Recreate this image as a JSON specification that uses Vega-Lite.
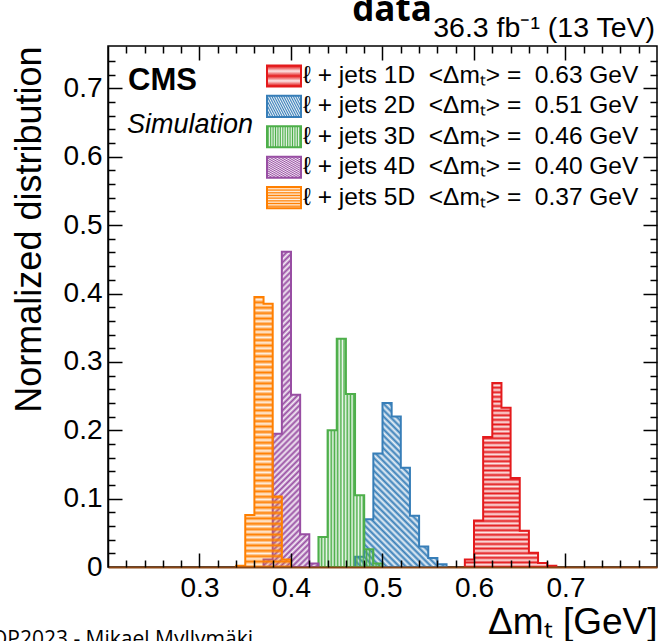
{
"$schema":"https://vega.github.io/schema/vega-lite/v6.json",
"width":549,"height":521,
"autosize":{"type":"none"},
"padding":{"left":108,"top":46,"right":3,"bottom":74},
"background":"white",
"config":{"view":{"stroke":"black","strokeWidth":1.5},"font":"Liberation Sans"},
"datasets":{
"h1":[{"s":"1D","x":0.59,"y":0.011},{"s":"1D","x":0.6,"y":0.068},{"s":"1D","x":0.61,"y":0.19},{"s":"1D","x":0.62,"y":0.269},{"s":"1D","x":0.63,"y":0.233},{"s":"1D","x":0.64,"y":0.13},{"s":"1D","x":0.65,"y":0.053},{"s":"1D","x":0.66,"y":0.021},{"s":"1D","x":0.67,"y":0.006},{"s":"1D","x":0.68,"y":0.002},{"s":"1D","x":0.69,"y":0}],
"h2":[{"s":"2D","x":0.47,"y":0.015},{"s":"2D","x":0.48,"y":0.07},{"s":"2D","x":0.49,"y":0.166},{"s":"2D","x":0.5,"y":0.24},{"s":"2D","x":0.51,"y":0.22},{"s":"2D","x":0.52,"y":0.145},{"s":"2D","x":0.53,"y":0.075},{"s":"2D","x":0.54,"y":0.03},{"s":"2D","x":0.55,"y":0.013},{"s":"2D","x":0.56,"y":0.004},{"s":"2D","x":0.57,"y":0}],
"h3":[{"s":"3D","x":0.43,"y":0.044},{"s":"3D","x":0.44,"y":0.2},{"s":"3D","x":0.45,"y":0.334},{"s":"3D","x":0.46,"y":0.253},{"s":"3D","x":0.47,"y":0.105},{"s":"3D","x":0.48,"y":0.026},{"s":"3D","x":0.49,"y":0.005},{"s":"3D","x":0.5,"y":0}],
"h4":[{"s":"4D","x":0.37,"y":0.011},{"s":"4D","x":0.38,"y":0.195},{"s":"4D","x":0.39,"y":0.461},{"s":"4D","x":0.4,"y":0.252},{"s":"4D","x":0.41,"y":0.048},{"s":"4D","x":0.42,"y":0.005},{"s":"4D","x":0.43,"y":0}],
"h5":[{"s":"5D","x":0.34,"y":0.002},{"s":"5D","x":0.35,"y":0.076},{"s":"5D","x":0.36,"y":0.395},{"s":"5D","x":0.37,"y":0.385},{"s":"5D","x":0.38,"y":0.103},{"s":"5D","x":0.39,"y":0.011},{"s":"5D","x":0.4,"y":0}]
},
"resolve":{"scale":{"stroke":"independent"},"axis":{"x":"independent","y":"independent"}},
"layer":[
{"data":{"name":"h1"},
"mark":{"type":"area","interpolate":"step-after","strokeWidth":2,"fill":{"gradient":"linear","x1":1,"y1":0,"x2":1,"y2":1,"stops":[{"offset":0,"color":"#e41a1c"},{"offset":0.0125,"color":"#e41a1c1a"},{"offset":0.025,"color":"#e41a1c"},{"offset":0.0375,"color":"#e41a1c1a"},{"offset":0.05,"color":"#e41a1c"},{"offset":0.0625,"color":"#e41a1c1a"},{"offset":0.075,"color":"#e41a1c"},{"offset":0.0875,"color":"#e41a1c1a"},{"offset":0.1,"color":"#e41a1c"},{"offset":0.1125,"color":"#e41a1c1a"},{"offset":0.125,"color":"#e41a1c"},{"offset":0.1375,"color":"#e41a1c1a"},{"offset":0.15,"color":"#e41a1c"},{"offset":0.1625,"color":"#e41a1c1a"},{"offset":0.175,"color":"#e41a1c"},{"offset":0.1875,"color":"#e41a1c1a"},{"offset":0.2,"color":"#e41a1c"},{"offset":0.2125,"color":"#e41a1c1a"},{"offset":0.225,"color":"#e41a1c"},{"offset":0.2375,"color":"#e41a1c1a"},{"offset":0.25,"color":"#e41a1c"},{"offset":0.2625,"color":"#e41a1c1a"},{"offset":0.275,"color":"#e41a1c"},{"offset":0.2875,"color":"#e41a1c1a"},{"offset":0.3,"color":"#e41a1c"},{"offset":0.3125,"color":"#e41a1c1a"},{"offset":0.325,"color":"#e41a1c"},{"offset":0.3375,"color":"#e41a1c1a"},{"offset":0.35,"color":"#e41a1c"},{"offset":0.3625,"color":"#e41a1c1a"},{"offset":0.375,"color":"#e41a1c"},{"offset":0.3875,"color":"#e41a1c1a"},{"offset":0.4,"color":"#e41a1c"},{"offset":0.4125,"color":"#e41a1c1a"},{"offset":0.425,"color":"#e41a1c"},{"offset":0.4375,"color":"#e41a1c1a"},{"offset":0.45,"color":"#e41a1c"},{"offset":0.4625,"color":"#e41a1c1a"},{"offset":0.475,"color":"#e41a1c"},{"offset":0.4875,"color":"#e41a1c1a"},{"offset":0.5,"color":"#e41a1c"},{"offset":0.5125,"color":"#e41a1c1a"},{"offset":0.525,"color":"#e41a1c"},{"offset":0.5375,"color":"#e41a1c1a"},{"offset":0.55,"color":"#e41a1c"},{"offset":0.5625,"color":"#e41a1c1a"},{"offset":0.575,"color":"#e41a1c"},{"offset":0.5875,"color":"#e41a1c1a"},{"offset":0.6,"color":"#e41a1c"},{"offset":0.6125,"color":"#e41a1c1a"},{"offset":0.625,"color":"#e41a1c"},{"offset":0.6375,"color":"#e41a1c1a"},{"offset":0.65,"color":"#e41a1c"},{"offset":0.6625,"color":"#e41a1c1a"},{"offset":0.675,"color":"#e41a1c"},{"offset":0.6875,"color":"#e41a1c1a"},{"offset":0.7,"color":"#e41a1c"},{"offset":0.7125,"color":"#e41a1c1a"},{"offset":0.725,"color":"#e41a1c"},{"offset":0.7375,"color":"#e41a1c1a"},{"offset":0.75,"color":"#e41a1c"},{"offset":0.7625,"color":"#e41a1c1a"},{"offset":0.775,"color":"#e41a1c"},{"offset":0.7875,"color":"#e41a1c1a"},{"offset":0.8,"color":"#e41a1c"},{"offset":0.8125,"color":"#e41a1c1a"},{"offset":0.825,"color":"#e41a1c"},{"offset":0.8375,"color":"#e41a1c1a"},{"offset":0.85,"color":"#e41a1c"},{"offset":0.8625,"color":"#e41a1c1a"},{"offset":0.875,"color":"#e41a1c"},{"offset":0.8875,"color":"#e41a1c1a"},{"offset":0.9,"color":"#e41a1c"},{"offset":0.9125,"color":"#e41a1c1a"},{"offset":0.925,"color":"#e41a1c"},{"offset":0.9375,"color":"#e41a1c1a"},{"offset":0.95,"color":"#e41a1c"},{"offset":0.9625,"color":"#e41a1c1a"},{"offset":0.975,"color":"#e41a1c"},{"offset":0.9875,"color":"#e41a1c1a"},{"offset":1,"color":"#e41a1c"}]}},
"encoding":{
"x":{"field":"x","type":"quantitative","scale":{"domain":[0.2,0.8],"nice":false,"zero":false},
"axis":{"orient":"bottom","values":[0.3,0.4,0.5,0.6,0.7],"format":".1f","grid":false,"zindex":2,"ticks":false,
"labelFont":"Liberation Sans","labelFontSize":28,"labelColor":"black","labelPadding":7,"labelFlush":false,"labelOverlap":false,
"domainColor":"#8a4614","domainWidth":2,
"title":"Δmₜ [GeV]","titleFont":"Liberation Sans","titleFontSize":37,"titleFontWeight":"normal","titleColor":"black","titleAnchor":"end","titleAlign":"right","titleBaseline":"alphabetic","titleX":549,"titleY":66}},
"y":{"field":"y","type":"quantitative","stack":null,"scale":{"domain":[0,0.762],"nice":false},
"axis":{"orient":"left","values":[0,0.1,0.2,0.3,0.4,0.5,0.6,0.7],"grid":false,"zindex":2,"ticks":false,
"labelExpr":"datum.value==0 ? '0' : format(datum.value,'.1f')","labelFont":"Liberation Sans","labelFontSize":28,"labelColor":"black","labelPadding":6,"labelOverlap":false,"labelFlush":false,
"domainColor":"black","domainWidth":1.5,
"title":"Normalized distribution","titleFont":"Liberation Sans","titleFontSize":36,"titleFontWeight":"normal","titleColor":"black","titleAnchor":"end","titleAlign":"right","titleAngle":270,"titleBaseline":"alphabetic","titleX":-68,"titleY":0}},
"stroke":{"field":"s","type":"nominal","scale":{"range":["#e41a1c"]},
"legend":{"orient":"none","legendX":158,"legendY":12,"title":null,"padding":0,"symbolType":"M-1,-0.62H1V0.62H-1Z","symbolSize":1156,"symbolStrokeWidth":2,"labelFont":"Liberation Sans","labelFontSize":24.5,"labelColor":"black","labelOffset":1,"labelLimit":0,
"labelExpr":"'ℓ + jets 1D\u00a0 <Δmₜ> =\u00a0 0.63 GeV'",
"encode":{"symbols":{"update":{"fillOpacity":{"value":1},"fill":{"value":{"gradient":"linear","x1":1,"y1":0,"x2":1,"y2":1,"stops":[{"offset":0,"color":"#e41a1c"},{"offset":0.1,"color":"#e41a1c1a"},{"offset":0.2,"color":"#e41a1c"},{"offset":0.3,"color":"#e41a1c1a"},{"offset":0.4,"color":"#e41a1c"},{"offset":0.5,"color":"#e41a1c1a"},{"offset":0.6,"color":"#e41a1c"},{"offset":0.7,"color":"#e41a1c1a"},{"offset":0.8,"color":"#e41a1c"},{"offset":0.9,"color":"#e41a1c1a"},{"offset":1,"color":"#e41a1c"}]}}}}}}}
}},
{"data":{"name":"h2"},
"mark":{"type":"area","interpolate":"step-after","strokeWidth":2,"fill":{"gradient":"linear","x1":0,"y1":1,"x2":0.6625,"y2":-0.1882,"stops":[{"offset":0,"color":"#377eb8"},{"offset":0.0125,"color":"#377eb81a"},{"offset":0.025,"color":"#377eb8"},{"offset":0.0375,"color":"#377eb81a"},{"offset":0.05,"color":"#377eb8"},{"offset":0.0625,"color":"#377eb81a"},{"offset":0.075,"color":"#377eb8"},{"offset":0.0875,"color":"#377eb81a"},{"offset":0.1,"color":"#377eb8"},{"offset":0.1125,"color":"#377eb81a"},{"offset":0.125,"color":"#377eb8"},{"offset":0.1375,"color":"#377eb81a"},{"offset":0.15,"color":"#377eb8"},{"offset":0.1625,"color":"#377eb81a"},{"offset":0.175,"color":"#377eb8"},{"offset":0.1875,"color":"#377eb81a"},{"offset":0.2,"color":"#377eb8"},{"offset":0.2125,"color":"#377eb81a"},{"offset":0.225,"color":"#377eb8"},{"offset":0.2375,"color":"#377eb81a"},{"offset":0.25,"color":"#377eb8"},{"offset":0.2625,"color":"#377eb81a"},{"offset":0.275,"color":"#377eb8"},{"offset":0.2875,"color":"#377eb81a"},{"offset":0.3,"color":"#377eb8"},{"offset":0.3125,"color":"#377eb81a"},{"offset":0.325,"color":"#377eb8"},{"offset":0.3375,"color":"#377eb81a"},{"offset":0.35,"color":"#377eb8"},{"offset":0.3625,"color":"#377eb81a"},{"offset":0.375,"color":"#377eb8"},{"offset":0.3875,"color":"#377eb81a"},{"offset":0.4,"color":"#377eb8"},{"offset":0.4125,"color":"#377eb81a"},{"offset":0.425,"color":"#377eb8"},{"offset":0.4375,"color":"#377eb81a"},{"offset":0.45,"color":"#377eb8"},{"offset":0.4625,"color":"#377eb81a"},{"offset":0.475,"color":"#377eb8"},{"offset":0.4875,"color":"#377eb81a"},{"offset":0.5,"color":"#377eb8"},{"offset":0.5125,"color":"#377eb81a"},{"offset":0.525,"color":"#377eb8"},{"offset":0.5375,"color":"#377eb81a"},{"offset":0.55,"color":"#377eb8"},{"offset":0.5625,"color":"#377eb81a"},{"offset":0.575,"color":"#377eb8"},{"offset":0.5875,"color":"#377eb81a"},{"offset":0.6,"color":"#377eb8"},{"offset":0.6125,"color":"#377eb81a"},{"offset":0.625,"color":"#377eb8"},{"offset":0.6375,"color":"#377eb81a"},{"offset":0.65,"color":"#377eb8"},{"offset":0.6625,"color":"#377eb81a"},{"offset":0.675,"color":"#377eb8"},{"offset":0.6875,"color":"#377eb81a"},{"offset":0.7,"color":"#377eb8"},{"offset":0.7125,"color":"#377eb81a"},{"offset":0.725,"color":"#377eb8"},{"offset":0.7375,"color":"#377eb81a"},{"offset":0.75,"color":"#377eb8"},{"offset":0.7625,"color":"#377eb81a"},{"offset":0.775,"color":"#377eb8"},{"offset":0.7875,"color":"#377eb81a"},{"offset":0.8,"color":"#377eb8"},{"offset":0.8125,"color":"#377eb81a"},{"offset":0.825,"color":"#377eb8"},{"offset":0.8375,"color":"#377eb81a"},{"offset":0.85,"color":"#377eb8"},{"offset":0.8625,"color":"#377eb81a"},{"offset":0.875,"color":"#377eb8"},{"offset":0.8875,"color":"#377eb81a"},{"offset":0.9,"color":"#377eb8"},{"offset":0.9125,"color":"#377eb81a"},{"offset":0.925,"color":"#377eb8"},{"offset":0.9375,"color":"#377eb81a"},{"offset":0.95,"color":"#377eb8"},{"offset":0.9625,"color":"#377eb81a"},{"offset":0.975,"color":"#377eb8"},{"offset":0.9875,"color":"#377eb81a"},{"offset":1,"color":"#377eb8"}]}},
"encoding":{
"x":{"field":"x","type":"quantitative","scale":{"domain":[0.2,0.8],"nice":false,"zero":false},
"axis":{"orient":"bottom","values":[0.3,0.4,0.5,0.6,0.7],"grid":false,"zindex":2,"labels":false,"title":null,"domain":false,"offset":-14,"tickSize":14,"tickColor":"black","tickWidth":1.5}},
"y":{"field":"y","type":"quantitative","stack":null,"scale":{"domain":[0,0.762],"nice":false},
"axis":{"orient":"left","values":[0.1,0.2,0.3,0.4,0.5,0.6,0.7],"grid":false,"zindex":2,"labels":false,"title":null,"domain":false,"offset":-14,"tickSize":14,"tickColor":"black","tickWidth":1.5}},
"stroke":{"field":"s","type":"nominal","scale":{"range":["#377eb8"]},
"legend":{"orient":"none","legendX":158,"legendY":42.4,"title":null,"padding":0,"symbolType":"M-1,-0.62H1V0.62H-1Z","symbolSize":1156,"symbolStrokeWidth":2,"labelFont":"Liberation Sans","labelFontSize":24.5,"labelColor":"black","labelOffset":1,"labelLimit":0,
"labelExpr":"'ℓ + jets 2D\u00a0 <Δmₜ> =\u00a0 0.51 GeV'",
"encode":{"symbols":{"update":{"fillOpacity":{"value":1},"fill":{"value":{"gradient":"linear","x1":0,"y1":1,"x2":1.171,"y2":0.277,"stops":[{"offset":0,"color":"#377eb8"},{"offset":0.05,"color":"#377eb81a"},{"offset":0.1,"color":"#377eb8"},{"offset":0.15,"color":"#377eb81a"},{"offset":0.2,"color":"#377eb8"},{"offset":0.25,"color":"#377eb81a"},{"offset":0.3,"color":"#377eb8"},{"offset":0.35,"color":"#377eb81a"},{"offset":0.4,"color":"#377eb8"},{"offset":0.45,"color":"#377eb81a"},{"offset":0.5,"color":"#377eb8"},{"offset":0.55,"color":"#377eb81a"},{"offset":0.6,"color":"#377eb8"},{"offset":0.65,"color":"#377eb81a"},{"offset":0.7,"color":"#377eb8"},{"offset":0.75,"color":"#377eb81a"},{"offset":0.8,"color":"#377eb8"},{"offset":0.85,"color":"#377eb81a"},{"offset":0.9,"color":"#377eb8"},{"offset":0.95,"color":"#377eb81a"},{"offset":1,"color":"#377eb8"}]}}}}}}}
}},
{"data":{"name":"h3"},
"mark":{"type":"area","interpolate":"step-after","strokeWidth":2,"fill":{"gradient":"linear","x1":0,"y1":0,"x2":1,"y2":0,"stops":[{"offset":0,"color":"#4daf4a"},{"offset":0.025,"color":"#4daf4a1a"},{"offset":0.05,"color":"#4daf4a"},{"offset":0.075,"color":"#4daf4a1a"},{"offset":0.1,"color":"#4daf4a"},{"offset":0.125,"color":"#4daf4a1a"},{"offset":0.15,"color":"#4daf4a"},{"offset":0.175,"color":"#4daf4a1a"},{"offset":0.2,"color":"#4daf4a"},{"offset":0.225,"color":"#4daf4a1a"},{"offset":0.25,"color":"#4daf4a"},{"offset":0.275,"color":"#4daf4a1a"},{"offset":0.3,"color":"#4daf4a"},{"offset":0.325,"color":"#4daf4a1a"},{"offset":0.35,"color":"#4daf4a"},{"offset":0.375,"color":"#4daf4a1a"},{"offset":0.4,"color":"#4daf4a"},{"offset":0.425,"color":"#4daf4a1a"},{"offset":0.45,"color":"#4daf4a"},{"offset":0.475,"color":"#4daf4a1a"},{"offset":0.5,"color":"#4daf4a"},{"offset":0.525,"color":"#4daf4a1a"},{"offset":0.55,"color":"#4daf4a"},{"offset":0.575,"color":"#4daf4a1a"},{"offset":0.6,"color":"#4daf4a"},{"offset":0.625,"color":"#4daf4a1a"},{"offset":0.65,"color":"#4daf4a"},{"offset":0.675,"color":"#4daf4a1a"},{"offset":0.7,"color":"#4daf4a"},{"offset":0.725,"color":"#4daf4a1a"},{"offset":0.75,"color":"#4daf4a"},{"offset":0.775,"color":"#4daf4a1a"},{"offset":0.8,"color":"#4daf4a"},{"offset":0.825,"color":"#4daf4a1a"},{"offset":0.85,"color":"#4daf4a"},{"offset":0.875,"color":"#4daf4a1a"},{"offset":0.9,"color":"#4daf4a"},{"offset":0.925,"color":"#4daf4a1a"},{"offset":0.95,"color":"#4daf4a"},{"offset":0.975,"color":"#4daf4a1a"},{"offset":1,"color":"#4daf4a"}]}},
"encoding":{
"x":{"field":"x","type":"quantitative","scale":{"domain":[0.2,0.8],"nice":false,"zero":false},
"axis":{"orient":"bottom","values":[0.22,0.24,0.26,0.28,0.32,0.34,0.36,0.38,0.42,0.44,0.46,0.48,0.52,0.54,0.56,0.58,0.62,0.64,0.66,0.68,0.72,0.74,0.76,0.78],"grid":false,"zindex":2,"labels":false,"title":null,"domain":false,"offset":-7,"tickSize":7,"tickColor":"black","tickWidth":1.5}},
"y":{"field":"y","type":"quantitative","stack":null,"scale":{"domain":[0,0.762],"nice":false},
"axis":{"orient":"left","values":[0.02,0.04,0.06,0.08,0.12,0.14,0.16,0.18,0.22,0.24,0.26,0.28,0.32,0.34,0.36,0.38,0.42,0.44,0.46,0.48,0.52,0.54,0.56,0.58,0.62,0.64,0.66,0.68,0.72,0.74],"grid":false,"zindex":2,"labels":false,"title":null,"domain":false,"offset":-7,"tickSize":7,"tickColor":"black","tickWidth":1.5}},
"stroke":{"field":"s","type":"nominal","scale":{"range":["#4daf4a"]},
"legend":{"orient":"none","legendX":158,"legendY":72.8,"title":null,"padding":0,"symbolType":"M-1,-0.62H1V0.62H-1Z","symbolSize":1156,"symbolStrokeWidth":2,"labelFont":"Liberation Sans","labelFontSize":24.5,"labelColor":"black","labelOffset":1,"labelLimit":0,
"labelExpr":"'ℓ + jets 3D\u00a0 <Δmₜ> =\u00a0 0.46 GeV'",
"encode":{"symbols":{"update":{"fillOpacity":{"value":1},"fill":{"value":{"gradient":"linear","x1":0,"y1":0,"x2":1,"y2":0,"stops":[{"offset":0,"color":"#4daf4a"},{"offset":0.05,"color":"#4daf4a1a"},{"offset":0.1,"color":"#4daf4a"},{"offset":0.15,"color":"#4daf4a1a"},{"offset":0.2,"color":"#4daf4a"},{"offset":0.25,"color":"#4daf4a1a"},{"offset":0.3,"color":"#4daf4a"},{"offset":0.35,"color":"#4daf4a1a"},{"offset":0.4,"color":"#4daf4a"},{"offset":0.45,"color":"#4daf4a1a"},{"offset":0.5,"color":"#4daf4a"},{"offset":0.55,"color":"#4daf4a1a"},{"offset":0.6,"color":"#4daf4a"},{"offset":0.65,"color":"#4daf4a1a"},{"offset":0.7,"color":"#4daf4a"},{"offset":0.75,"color":"#4daf4a1a"},{"offset":0.8,"color":"#4daf4a"},{"offset":0.85,"color":"#4daf4a1a"},{"offset":0.9,"color":"#4daf4a"},{"offset":0.95,"color":"#4daf4a1a"},{"offset":1,"color":"#4daf4a"}]}}}}}}}
}},
{"data":{"name":"h4"},
"mark":{"type":"area","interpolate":"step-after","strokeWidth":2,"fill":{"gradient":"linear","x1":0,"y1":0,"x2":0.1985,"y2":1.1396,"stops":[{"offset":0,"color":"#984ea3"},{"offset":0.008,"color":"#984ea31a"},{"offset":0.016,"color":"#984ea3"},{"offset":0.024,"color":"#984ea31a"},{"offset":0.032,"color":"#984ea3"},{"offset":0.04,"color":"#984ea31a"},{"offset":0.048,"color":"#984ea3"},{"offset":0.056,"color":"#984ea31a"},{"offset":0.064,"color":"#984ea3"},{"offset":0.072,"color":"#984ea31a"},{"offset":0.08,"color":"#984ea3"},{"offset":0.088,"color":"#984ea31a"},{"offset":0.096,"color":"#984ea3"},{"offset":0.104,"color":"#984ea31a"},{"offset":0.112,"color":"#984ea3"},{"offset":0.12,"color":"#984ea31a"},{"offset":0.128,"color":"#984ea3"},{"offset":0.136,"color":"#984ea31a"},{"offset":0.144,"color":"#984ea3"},{"offset":0.152,"color":"#984ea31a"},{"offset":0.16,"color":"#984ea3"},{"offset":0.168,"color":"#984ea31a"},{"offset":0.176,"color":"#984ea3"},{"offset":0.184,"color":"#984ea31a"},{"offset":0.192,"color":"#984ea3"},{"offset":0.2,"color":"#984ea31a"},{"offset":0.208,"color":"#984ea3"},{"offset":0.216,"color":"#984ea31a"},{"offset":0.224,"color":"#984ea3"},{"offset":0.232,"color":"#984ea31a"},{"offset":0.24,"color":"#984ea3"},{"offset":0.248,"color":"#984ea31a"},{"offset":0.256,"color":"#984ea3"},{"offset":0.264,"color":"#984ea31a"},{"offset":0.272,"color":"#984ea3"},{"offset":0.28,"color":"#984ea31a"},{"offset":0.288,"color":"#984ea3"},{"offset":0.296,"color":"#984ea31a"},{"offset":0.304,"color":"#984ea3"},{"offset":0.312,"color":"#984ea31a"},{"offset":0.32,"color":"#984ea3"},{"offset":0.328,"color":"#984ea31a"},{"offset":0.336,"color":"#984ea3"},{"offset":0.344,"color":"#984ea31a"},{"offset":0.352,"color":"#984ea3"},{"offset":0.36,"color":"#984ea31a"},{"offset":0.368,"color":"#984ea3"},{"offset":0.376,"color":"#984ea31a"},{"offset":0.384,"color":"#984ea3"},{"offset":0.392,"color":"#984ea31a"},{"offset":0.4,"color":"#984ea3"},{"offset":0.408,"color":"#984ea31a"},{"offset":0.416,"color":"#984ea3"},{"offset":0.424,"color":"#984ea31a"},{"offset":0.432,"color":"#984ea3"},{"offset":0.44,"color":"#984ea31a"},{"offset":0.448,"color":"#984ea3"},{"offset":0.456,"color":"#984ea31a"},{"offset":0.464,"color":"#984ea3"},{"offset":0.472,"color":"#984ea31a"},{"offset":0.48,"color":"#984ea3"},{"offset":0.488,"color":"#984ea31a"},{"offset":0.496,"color":"#984ea3"},{"offset":0.504,"color":"#984ea31a"},{"offset":0.512,"color":"#984ea3"},{"offset":0.52,"color":"#984ea31a"},{"offset":0.528,"color":"#984ea3"},{"offset":0.536,"color":"#984ea31a"},{"offset":0.544,"color":"#984ea3"},{"offset":0.552,"color":"#984ea31a"},{"offset":0.56,"color":"#984ea3"},{"offset":0.568,"color":"#984ea31a"},{"offset":0.576,"color":"#984ea3"},{"offset":0.584,"color":"#984ea31a"},{"offset":0.592,"color":"#984ea3"},{"offset":0.6,"color":"#984ea31a"},{"offset":0.608,"color":"#984ea3"},{"offset":0.616,"color":"#984ea31a"},{"offset":0.624,"color":"#984ea3"},{"offset":0.632,"color":"#984ea31a"},{"offset":0.64,"color":"#984ea3"},{"offset":0.648,"color":"#984ea31a"},{"offset":0.656,"color":"#984ea3"},{"offset":0.664,"color":"#984ea31a"},{"offset":0.672,"color":"#984ea3"},{"offset":0.68,"color":"#984ea31a"},{"offset":0.688,"color":"#984ea3"},{"offset":0.696,"color":"#984ea31a"},{"offset":0.704,"color":"#984ea3"},{"offset":0.712,"color":"#984ea31a"},{"offset":0.72,"color":"#984ea3"},{"offset":0.728,"color":"#984ea31a"},{"offset":0.736,"color":"#984ea3"},{"offset":0.744,"color":"#984ea31a"},{"offset":0.752,"color":"#984ea3"},{"offset":0.76,"color":"#984ea31a"},{"offset":0.768,"color":"#984ea3"},{"offset":0.776,"color":"#984ea31a"},{"offset":0.784,"color":"#984ea3"},{"offset":0.792,"color":"#984ea31a"},{"offset":0.8,"color":"#984ea3"},{"offset":0.808,"color":"#984ea31a"},{"offset":0.816,"color":"#984ea3"},{"offset":0.824,"color":"#984ea31a"},{"offset":0.832,"color":"#984ea3"},{"offset":0.84,"color":"#984ea31a"},{"offset":0.848,"color":"#984ea3"},{"offset":0.856,"color":"#984ea31a"},{"offset":0.864,"color":"#984ea3"},{"offset":0.872,"color":"#984ea31a"},{"offset":0.88,"color":"#984ea3"},{"offset":0.888,"color":"#984ea31a"},{"offset":0.896,"color":"#984ea3"},{"offset":0.904,"color":"#984ea31a"},{"offset":0.912,"color":"#984ea3"},{"offset":0.92,"color":"#984ea31a"},{"offset":0.928,"color":"#984ea3"},{"offset":0.936,"color":"#984ea31a"},{"offset":0.944,"color":"#984ea3"},{"offset":0.952,"color":"#984ea31a"},{"offset":0.96,"color":"#984ea3"},{"offset":0.968,"color":"#984ea31a"},{"offset":0.976,"color":"#984ea3"},{"offset":0.984,"color":"#984ea31a"},{"offset":0.992,"color":"#984ea3"},{"offset":1,"color":"#984ea31a"}]}},
"encoding":{
"x":{"field":"x","type":"quantitative","scale":{"domain":[0.2,0.8],"nice":false,"zero":false},
"axis":{"orient":"top","values":[0.3,0.4,0.5,0.6,0.7],"grid":false,"zindex":2,"labels":false,"title":null,"domain":false,"offset":-14,"tickSize":14,"tickColor":"black","tickWidth":1.5}},
"y":{"field":"y","type":"quantitative","stack":null,"scale":{"domain":[0,0.762],"nice":false},
"axis":{"orient":"right","values":[0.1,0.2,0.3,0.4,0.5,0.6,0.7],"grid":false,"zindex":2,"labels":false,"title":null,"domain":false,"offset":-14,"tickSize":14,"tickColor":"black","tickWidth":1.5}},
"stroke":{"field":"s","type":"nominal","scale":{"range":["#984ea3"]},
"legend":{"orient":"none","legendX":158,"legendY":103.2,"title":null,"padding":0,"symbolType":"M-1,-0.62H1V0.62H-1Z","symbolSize":1156,"symbolStrokeWidth":2,"labelFont":"Liberation Sans","labelFontSize":24.5,"labelColor":"black","labelOffset":1,"labelLimit":0,
"labelExpr":"'ℓ + jets 4D\u00a0 <Δmₜ> =\u00a0 0.40 GeV'",
"encode":{"symbols":{"update":{"fillOpacity":{"value":1},"fill":{"value":{"gradient":"linear","x1":0,"y1":0,"x2":1.171,"y2":0.723,"stops":[{"offset":0,"color":"#984ea3"},{"offset":0.05,"color":"#984ea31a"},{"offset":0.1,"color":"#984ea3"},{"offset":0.15,"color":"#984ea31a"},{"offset":0.2,"color":"#984ea3"},{"offset":0.25,"color":"#984ea31a"},{"offset":0.3,"color":"#984ea3"},{"offset":0.35,"color":"#984ea31a"},{"offset":0.4,"color":"#984ea3"},{"offset":0.45,"color":"#984ea31a"},{"offset":0.5,"color":"#984ea3"},{"offset":0.55,"color":"#984ea31a"},{"offset":0.6,"color":"#984ea3"},{"offset":0.65,"color":"#984ea31a"},{"offset":0.7,"color":"#984ea3"},{"offset":0.75,"color":"#984ea31a"},{"offset":0.8,"color":"#984ea3"},{"offset":0.85,"color":"#984ea31a"},{"offset":0.9,"color":"#984ea3"},{"offset":0.95,"color":"#984ea31a"},{"offset":1,"color":"#984ea3"}]}}}}}}}
}},
{"data":{"name":"h5"},
"mark":{"type":"area","interpolate":"step-after","strokeWidth":2,"fill":{"gradient":"linear","x1":1,"y1":0,"x2":1,"y2":1,"stops":[{"offset":0,"color":"#ff7f00"},{"offset":0.01,"color":"#ff7f001a"},{"offset":0.02,"color":"#ff7f00"},{"offset":0.03,"color":"#ff7f001a"},{"offset":0.04,"color":"#ff7f00"},{"offset":0.05,"color":"#ff7f001a"},{"offset":0.06,"color":"#ff7f00"},{"offset":0.07,"color":"#ff7f001a"},{"offset":0.08,"color":"#ff7f00"},{"offset":0.09,"color":"#ff7f001a"},{"offset":0.1,"color":"#ff7f00"},{"offset":0.11,"color":"#ff7f001a"},{"offset":0.12,"color":"#ff7f00"},{"offset":0.13,"color":"#ff7f001a"},{"offset":0.14,"color":"#ff7f00"},{"offset":0.15,"color":"#ff7f001a"},{"offset":0.16,"color":"#ff7f00"},{"offset":0.17,"color":"#ff7f001a"},{"offset":0.18,"color":"#ff7f00"},{"offset":0.19,"color":"#ff7f001a"},{"offset":0.2,"color":"#ff7f00"},{"offset":0.21,"color":"#ff7f001a"},{"offset":0.22,"color":"#ff7f00"},{"offset":0.23,"color":"#ff7f001a"},{"offset":0.24,"color":"#ff7f00"},{"offset":0.25,"color":"#ff7f001a"},{"offset":0.26,"color":"#ff7f00"},{"offset":0.27,"color":"#ff7f001a"},{"offset":0.28,"color":"#ff7f00"},{"offset":0.29,"color":"#ff7f001a"},{"offset":0.3,"color":"#ff7f00"},{"offset":0.31,"color":"#ff7f001a"},{"offset":0.32,"color":"#ff7f00"},{"offset":0.33,"color":"#ff7f001a"},{"offset":0.34,"color":"#ff7f00"},{"offset":0.35,"color":"#ff7f001a"},{"offset":0.36,"color":"#ff7f00"},{"offset":0.37,"color":"#ff7f001a"},{"offset":0.38,"color":"#ff7f00"},{"offset":0.39,"color":"#ff7f001a"},{"offset":0.4,"color":"#ff7f00"},{"offset":0.41,"color":"#ff7f001a"},{"offset":0.42,"color":"#ff7f00"},{"offset":0.43,"color":"#ff7f001a"},{"offset":0.44,"color":"#ff7f00"},{"offset":0.45,"color":"#ff7f001a"},{"offset":0.46,"color":"#ff7f00"},{"offset":0.47,"color":"#ff7f001a"},{"offset":0.48,"color":"#ff7f00"},{"offset":0.49,"color":"#ff7f001a"},{"offset":0.5,"color":"#ff7f00"},{"offset":0.51,"color":"#ff7f001a"},{"offset":0.52,"color":"#ff7f00"},{"offset":0.53,"color":"#ff7f001a"},{"offset":0.54,"color":"#ff7f00"},{"offset":0.55,"color":"#ff7f001a"},{"offset":0.56,"color":"#ff7f00"},{"offset":0.57,"color":"#ff7f001a"},{"offset":0.58,"color":"#ff7f00"},{"offset":0.59,"color":"#ff7f001a"},{"offset":0.6,"color":"#ff7f00"},{"offset":0.61,"color":"#ff7f001a"},{"offset":0.62,"color":"#ff7f00"},{"offset":0.63,"color":"#ff7f001a"},{"offset":0.64,"color":"#ff7f00"},{"offset":0.65,"color":"#ff7f001a"},{"offset":0.66,"color":"#ff7f00"},{"offset":0.67,"color":"#ff7f001a"},{"offset":0.68,"color":"#ff7f00"},{"offset":0.69,"color":"#ff7f001a"},{"offset":0.7,"color":"#ff7f00"},{"offset":0.71,"color":"#ff7f001a"},{"offset":0.72,"color":"#ff7f00"},{"offset":0.73,"color":"#ff7f001a"},{"offset":0.74,"color":"#ff7f00"},{"offset":0.75,"color":"#ff7f001a"},{"offset":0.76,"color":"#ff7f00"},{"offset":0.77,"color":"#ff7f001a"},{"offset":0.78,"color":"#ff7f00"},{"offset":0.79,"color":"#ff7f001a"},{"offset":0.8,"color":"#ff7f00"},{"offset":0.81,"color":"#ff7f001a"},{"offset":0.82,"color":"#ff7f00"},{"offset":0.83,"color":"#ff7f001a"},{"offset":0.84,"color":"#ff7f00"},{"offset":0.85,"color":"#ff7f001a"},{"offset":0.86,"color":"#ff7f00"},{"offset":0.87,"color":"#ff7f001a"},{"offset":0.88,"color":"#ff7f00"},{"offset":0.89,"color":"#ff7f001a"},{"offset":0.9,"color":"#ff7f00"},{"offset":0.91,"color":"#ff7f001a"},{"offset":0.92,"color":"#ff7f00"},{"offset":0.93,"color":"#ff7f001a"},{"offset":0.94,"color":"#ff7f00"},{"offset":0.95,"color":"#ff7f001a"},{"offset":0.96,"color":"#ff7f00"},{"offset":0.97,"color":"#ff7f001a"},{"offset":0.98,"color":"#ff7f00"},{"offset":0.99,"color":"#ff7f001a"},{"offset":1,"color":"#ff7f00"}]}},
"encoding":{
"x":{"field":"x","type":"quantitative","scale":{"domain":[0.2,0.8],"nice":false,"zero":false},
"axis":{"orient":"top","values":[0.22,0.24,0.26,0.28,0.32,0.34,0.36,0.38,0.42,0.44,0.46,0.48,0.52,0.54,0.56,0.58,0.62,0.64,0.66,0.68,0.72,0.74,0.76,0.78],"grid":false,"zindex":2,"labels":false,"title":null,"domain":false,"offset":-7,"tickSize":7,"tickColor":"black","tickWidth":1.5}},
"y":{"field":"y","type":"quantitative","stack":null,"scale":{"domain":[0,0.762],"nice":false},
"axis":{"orient":"right","values":[0.02,0.04,0.06,0.08,0.12,0.14,0.16,0.18,0.22,0.24,0.26,0.28,0.32,0.34,0.36,0.38,0.42,0.44,0.46,0.48,0.52,0.54,0.56,0.58,0.62,0.64,0.66,0.68,0.72,0.74],"grid":false,"zindex":2,"labels":false,"title":null,"domain":false,"offset":-7,"tickSize":7,"tickColor":"black","tickWidth":1.5}},
"stroke":{"field":"s","type":"nominal","scale":{"range":["#ff7f00"]},
"legend":{"orient":"none","legendX":158,"legendY":133.6,"title":null,"padding":0,"symbolType":"M-1,-0.62H1V0.62H-1Z","symbolSize":1156,"symbolStrokeWidth":2,"labelFont":"Liberation Sans","labelFontSize":24.5,"labelColor":"black","labelOffset":1,"labelLimit":0,
"labelExpr":"'ℓ + jets 5D\u00a0 <Δmₜ> =\u00a0 0.37 GeV'",
"encode":{"symbols":{"update":{"fillOpacity":{"value":1},"fill":{"value":{"gradient":"linear","x1":1,"y1":0,"x2":1,"y2":1,"stops":[{"offset":0,"color":"#ff7f00"},{"offset":0.1,"color":"#ff7f001a"},{"offset":0.2,"color":"#ff7f00"},{"offset":0.3,"color":"#ff7f001a"},{"offset":0.4,"color":"#ff7f00"},{"offset":0.5,"color":"#ff7f001a"},{"offset":0.6,"color":"#ff7f00"},{"offset":0.7,"color":"#ff7f001a"},{"offset":0.8,"color":"#ff7f00"},{"offset":0.9,"color":"#ff7f001a"},{"offset":1,"color":"#ff7f00"}]}}}}}}}
}},
{"data":{"values":[{}]},
"mark":{"type":"text","text":"CMS","font":"Liberation Sans","fontSize":31,"fontWeight":"bold","align":"left","baseline":"alphabetic","color":"black"},
"encoding":{"x":{"datum":0.2219,"type":"quantitative","axis":null},"y":{"datum":0.6977,"type":"quantitative","axis":null}}},
{"data":{"values":[{}]},
"mark":{"type":"text","text":"Simulation","font":"Liberation Sans","fontSize":27,"fontStyle":"italic","align":"left","baseline":"alphabetic","color":"black"},
"encoding":{"x":{"datum":0.2208,"type":"quantitative","axis":null},"y":{"datum":0.6348,"type":"quantitative","axis":null}}},
{"data":{"values":[{}]},
"mark":{"type":"text","text":"36.3 fb⁻¹ (13 TeV)","font":"Liberation Sans","fontSize":28.5,"align":"right","baseline":"alphabetic","color":"black"},
"encoding":{"x":{"datum":0.7978,"type":"quantitative","axis":null},"y":{"datum":0.7752,"type":"quantitative","axis":null}}},
{"data":{"values":[{}]},
"mark":{"type":"text","text":"data","font":"Open Sans","fontSize":35,"fontWeight":"bold","align":"center","baseline":"alphabetic","color":"black"},
"encoding":{"x":{"datum":0.5104,"type":"quantitative","axis":null},"y":{"datum":0.799,"type":"quantitative","axis":null}}},
{"data":{"values":[{}]},
"mark":{"type":"text","text":"TOP2023 - Mikael Myllymäki","font":"Open Sans","fontSize":21,"align":"right","baseline":"alphabetic","color":"black"},
"encoding":{"x":{"datum":0.3585,"type":"quantitative","axis":null},"y":{"datum":-0.1155,"type":"quantitative","axis":null}}}
]
}
